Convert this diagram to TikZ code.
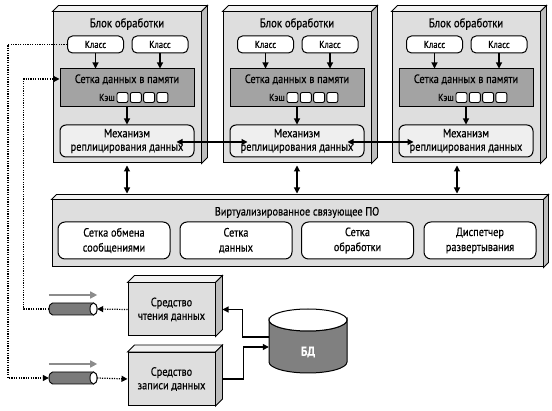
\documentclass[tikz,border=0pt]{standalone}
\usepackage{fontspec}
\setmainfont{PT Sans}[FakeStretch=0.86, FakeBold=0.5]
\usetikzlibrary{arrows.meta,calc}
\definecolor{blockgray}{HTML}{DEDEDE}
\definecolor{gridgray}{HTML}{A3A3A3}
\definecolor{mechgray}{HTML}{EFEFEF}
\definecolor{topface}{HTML}{F2F2F2}
\definecolor{sideface}{HTML}{BDBDBD}
\definecolor{pipegray}{HTML}{7A7A7A}
\definecolor{dbgray}{HTML}{808080}
\definecolor{arrowgray}{HTML}{8C8C8C}
\newcommand\threed[2]{%
  \draw[line width=0.9pt, fill=topface] (#1.north west) -- ++(#2,-#2) -- ([shift={(#2,-#2)}]#1.north east) -- (#1.north east) -- cycle;
  \draw[line width=0.9pt, fill=sideface] (#1.north east) -- ++(#2,-#2) -- ([shift={(#2,-#2)}]#1.south east) -- (#1.south east) -- cycle;}
\begin{document}
\begin{tikzpicture}[x=1pt,y=-1pt,
  front/.style={draw, line width=1pt, fill=blockgray, inner sep=0pt},
  klass/.style={draw, fill=white, rounded corners=5pt, line width=1pt, minimum width=56pt, minimum height=17pt, inner sep=0pt, font=\fontsize{10}{11}\selectfont},
  gridbox/.style={draw, fill=gridgray, line width=1pt, minimum width=134pt, minimum height=38pt, inner sep=0pt},
  mech/.style={draw, fill=mechgray, rounded corners=6pt, line width=1pt, minimum width=134pt, minimum height=32pt, align=center, inner sep=0pt, font=\fontsize{12}{13.5}\selectfont},
  cache/.style={draw, fill=white, rounded corners=2pt, line width=0.9pt, minimum width=11pt, minimum height=10pt, inner sep=0pt},
  vbox/.style={draw, fill=white, rounded corners=7pt, line width=1pt, minimum width=112pt, minimum height=37pt, align=center, inner sep=0pt, font=\fontsize{12}{15}\selectfont},
  rwbox/.style={draw, fill=blockgray, line width=1pt, minimum width=87pt, minimum height=53pt, align=center, inner sep=0pt, font=\fontsize{12}{13.5}\selectfont},
  conn/.style={line width=1.1pt, -{Triangle[length=6pt,width=6pt]}},
  biconn/.style={line width=1.1pt, {Triangle[length=6pt,width=6pt]}-{Triangle[length=6pt,width=6pt]}},
  dotconn/.style={line width=1.2pt, dash pattern=on 1.2pt off 1.2pt, -{Triangle[length=6pt,width=6pt]}},
  grayarrow/.style={line width=1.6pt, draw=arrowgray, -{Triangle[length=7pt,width=7pt]}},
  pipe/.style={draw, line width=0.9pt, fill=pipegray},
  ghost/.style={inner sep=0pt, minimum width=#1}
]
\useasboundingbox (0,0) rectangle (552,411);

% processing blocks
\foreach \L/\i in {53/1,223/2,392/3}{
  \node[front, minimum width=148pt, minimum height=151pt] (b\i) at (\L+74,87.5) {};
  \threed{b\i}{6}
  \node[font=\fontsize{12.5}{13}\selectfont] (t\i) at (\L+74,24) {Блок обработки};
  \node[klass] (k1\i) at (\L+42.5,44.5) {Класс};
  \node[klass] (k2\i) at (\L+107,44.5) {Класс};
  \node[gridbox] (sg\i) at (\L+74,88) {};
  \node[font=\fontsize{12}{13}\selectfont] (sgt\i) at (\L+74,79.5) {Сетка данных в памяти};
  \node[anchor=east, font=\fontsize{10}{11}\selectfont, inner sep=0pt] (ks\i) at (\L+62,97.5) {Кэш};
  \foreach \k/\cx in {1/69.5,2/82.8,3/96.1,4/109.4}{
    \node[cache] (c\i\k) at (\L+\cx,97.5) {};
  }
  \node[mech] (m\i) at (\L+74,141) {Механизм\\реплицирования данных};
  \draw[conn] (k1\i) -- (k1\i |- sg\i.north);
  \draw[conn] (k2\i) -- (k2\i |- sg\i.north);
  \draw[conn] (sg\i.south) -- (m\i.north);
}

% replication links
\draw[biconn] ([shift={(-18,1)}]m1.east) -- ([shift={(18,1)}]m2.west);
\draw[biconn] ([shift={(-17,1)}]m2.east) -- ([shift={(15,1)}]m3.west);

% virtualized middleware
\node[front, minimum width=491pt, minimum height=67pt] (vt) at (297.5,233.5) {};
\threed{vt}{5}
\node[font=\fontsize{12}{13}\selectfont] (vtt) at (297,212.5) {Виртуализированное связующее ПО};
\node[vbox] (v1) at (114,240.5) {Сетка обмена\\сообщениями};
\node[vbox] (v2) at (236,240.5) {Сетка\\данных};
\node[vbox] (v3) at (357.5,240.5) {Сетка\\обработки};
\node[vbox] (v4) at (480,240.5) {Диспетчер\\развертывания};

\draw[biconn, shorten <=2pt, shorten >=6pt] (b1.south) -- (b1.south |- vt.north);
\draw[biconn, shorten <=2pt, shorten >=6pt] (b2.south) -- (b2.south |- vt.north);
\draw[biconn, shorten <=2pt, shorten >=6pt] ([xshift=-9pt]b3.south) -- ([xshift=-9pt]b3.south |- vt.north);

% reader / writer
\node[rwbox] (rd) at (171.5,309.5) {Средство\\чтения данных};
\threed{rd}{7}
\node[rwbox] (wr) at (171.5,379) {Средство\\записи данных};
\threed{wr}{7}

% pipes
\foreach \y/\n in {309/p1,378/p2}{
  \draw[pipe] (52.5,\y-6) -- (93.5,\y-6) arc(-90:90:3.5 and 6) -- (52.5,\y+6) arc(90:270:3.5 and 6) -- cycle;
  \draw[line width=0.9pt, fill=white] (93.5,\y) ellipse (3.5 and 6);
  \node[ghost=48pt, minimum height=12pt] (\n) at (73,\y) {};
  \draw[grayarrow] ([yshift=14pt]\n.west) -- ([yshift=14pt]\n.east);
}

% database
\draw[line width=1pt, fill=dbgray] (269,320) -- (269,362) arc(180:0:39 and 11) -- (347,320) arc(0:180:39 and 11) -- cycle;
\draw[line width=1pt, fill=white] (308,320) ellipse (39 and 11);
\node[ghost=78pt, minimum height=64pt] (db) at (308,341) {};
\node[text=white, font=\bfseries\fontsize{13}{14}\selectfont] (dbt) at (308,352) {БД};

% data connectors
\draw[conn] ([yshift=4pt]db.west) -- ++(-26,0) |- ([xshift=7pt]rd.east);
\draw[conn] ([xshift=7pt]wr.east) -- ++(21,0) |- ([yshift=-6pt]db.west);

% dotted flows
\draw[dotconn] (rd.west) -- (p1.east);
\draw[dotconn] (p1.west) -- ++(-25,0) |- ([yshift=9pt]sg1.west);
\draw[dotconn] (k11.west) -- ++(-59,0) |- (p2.west);
\draw[dotconn] (p2.east) -- (wr.west);
\end{tikzpicture}
\end{document}
